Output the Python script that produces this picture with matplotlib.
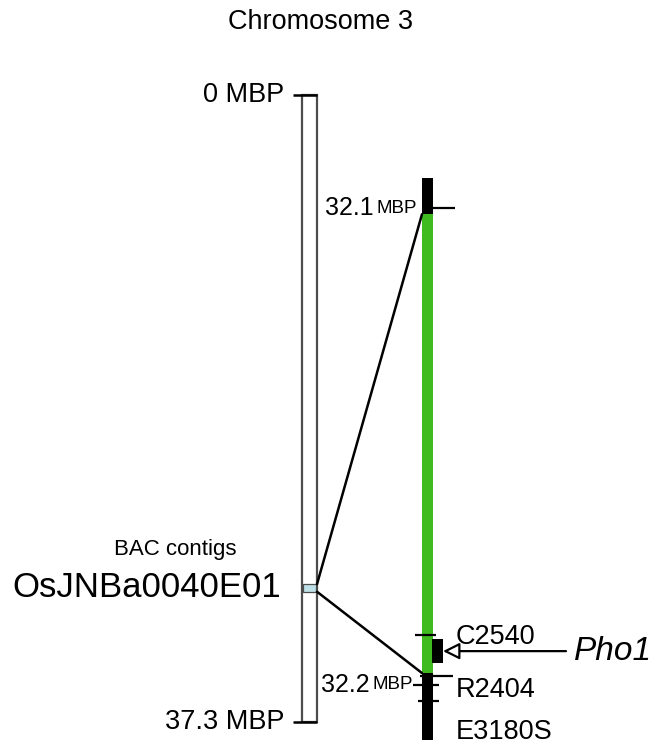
import matplotlib
matplotlib.use("Agg")
import matplotlib.pyplot as plt
from matplotlib.patches import Rectangle, ConnectionPatch

plt.rcParams['font.family'] = ['Liberation Sans', 'DejaVu Sans']

# whole chromosome (MBP)
chrom_name = "Chromosome 3"
chrom_len = 37.3
end_labels = ["0 MBP", "37.3 MBP"]
bac_name = "OsJNBa0040E01"
bac_span = (29.1, 29.55)          # as drawn on the schematic

# zoomed region (MBP)
zoom_bar = (32.0937, 32.2115)
zoom_green = (32.1013, 32.1975)
scale_ticks = [32.1, 32.2]
scale_labels = ["32.1", "32.2"]
marker_names = ["C2540", "R2404", "E3180S"]
marker_label_pos = [32.1900, 32.2011, 32.2099]
marker_ticks = [32.1895, 32.1981, 32.2034]
gene_name = "Pho1"
gene_span = (32.1904, 32.1954)

fig = plt.figure(figsize=(6.55, 7.48), dpi=100)

# left: full chromosome, x in pixels, y in MBP
axL = fig.add_axes([0, 0, 1, 1])
axL.set_xlim(0, 655)
axL.set_ylim(38.847, -5.651)
axL.axis('off')

# right: zoomed segment
axR = fig.add_axes([0, 0, 1, 1])
axR.set_xlim(0, 655)
axR.set_ylim(32.21321, 32.05639)
axR.axis('off')
axR.patch.set_alpha(0)

fig.text(0.49, 1 - 22 / 748, chrom_name, ha='center', va='center', fontsize=19.5)

# left chromosome
axL.add_patch(Rectangle((302, 0), 15, chrom_len, fc='white', ec='#4d4d4d', lw=1.6))
axL.add_patch(Rectangle((303, bac_span[0]), 13, bac_span[1] - bac_span[0],
                        fc='#bfe2e8', ec='#4d4d4d', lw=0.9))
for y, lab in zip([0, chrom_len], end_labels):
    axL.plot([293, 317], [y, y], color='black', lw=1.8, solid_capstyle='butt')
    axL.text(284, y, lab, ha='right', va='center', fontsize=19.5)
axL.text(175, bac_span[0] - 2.05, "BAC contigs", ha='center', va='center', fontsize=16)
axL.text(281, (bac_span[0] + bac_span[1]) / 2, bac_name, ha='right', va='center',
         fontsize=25)

# right zoomed bar
axR.add_patch(Rectangle((422, zoom_bar[0]), 11, zoom_bar[1] - zoom_bar[0],
                        fc='black', ec='none'))
axR.add_patch(Rectangle((422, zoom_green[0]), 11, zoom_green[1] - zoom_green[0],
                        fc='#3fbb20', ec='none'))

# scale ticks
axR.plot([432, 455], [scale_ticks[0]] * 2, color='black', lw=1.6, solid_capstyle='butt')
axR.plot([413, 439], [scale_ticks[1]] * 2, color='black', lw=1.6, solid_capstyle='butt')
for y, lab in zip(scale_ticks, scale_labels):
    xr = 417 if y == scale_ticks[0] else 413
    axR.text(xr, y, "MBP", ha='right', va='center', fontsize=13.5)
    axR.text(xr - 43, y, lab, ha='right', va='center', fontsize=18)

# marker ticks
tick_x = [(415, 436), (420, 453), (418, 439)]
for y, (x0, x1) in zip(marker_ticks, tick_x):
    axR.plot([x0, x1], [y, y], color='black', lw=1.6, solid_capstyle='butt')
for y, lab in zip(marker_label_pos, marker_names):
    axR.text(456, y, lab, ha='left', va='center', fontsize=19.5)

# gene box and arrow
axR.add_patch(Rectangle((432, gene_span[0]), 11, gene_span[1] - gene_span[0],
                        fc='black', ec='none'))
gy = (gene_span[0] + gene_span[1]) / 2
axR.annotate("", xy=(443, gy), xytext=(566, gy),
             arrowprops=dict(arrowstyle='-|>,head_length=1.0,head_width=0.5',
                             fc='white', ec='black', lw=1.6, shrinkA=0, shrinkB=0))
axR.text(574, gy, gene_name, ha='left', va='center', fontsize=24, style='italic')

# connecting lines from BAC to zoomed segment
for yl, yr in [(bac_span[0], zoom_green[0]), (bac_span[1], zoom_green[1])]:
    con = ConnectionPatch(xyA=(317, yl), coordsA=axL.transData,
                          xyB=(422, yr), coordsB=axR.transData,
                          color='black', lw=1.8)
    fig.add_artist(con)

fig.savefig("out.png", dpi=100)
